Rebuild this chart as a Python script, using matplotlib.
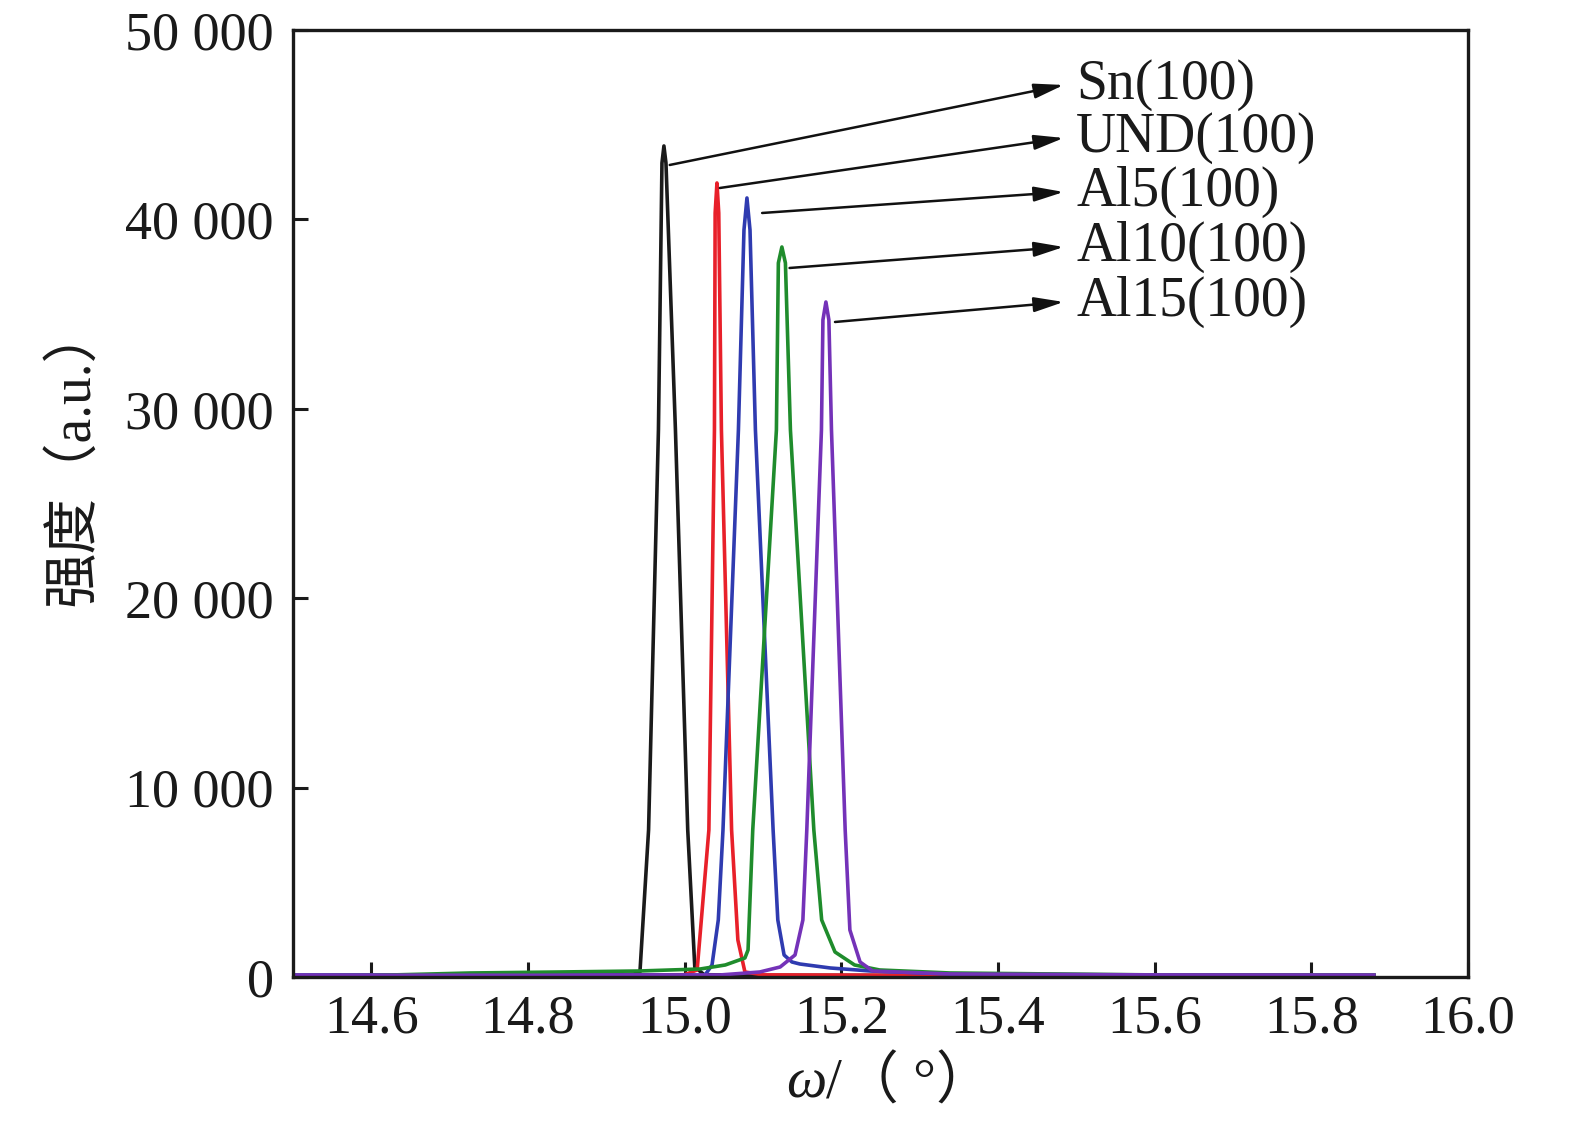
import matplotlib
matplotlib.use("Agg")
import matplotlib.pyplot as plt

# ---------------- data ----------------
sn_x = [14.50, 14.70, 14.90, 14.935, 14.943, 14.954, 14.9666, 14.9711, 14.9736, 14.9762, 14.9883, 15.004, 15.013, 15.025, 15.10, 15.40, 15.88]
sn_y = [80, 80, 90, 150, 264, 7762, 28882, 42979, 43877, 42979, 28882, 7762, 528, 120, 90, 80, 80]

und_x = [14.50, 14.80, 15.00, 15.016, 15.031, 15.0381, 15.0390, 15.0413, 15.0436, 15.0470, 15.060, 15.068, 15.077, 15.10, 15.40, 15.88]
und_y = [60, 70, 120, 370, 7762, 28882, 40339, 41923, 40339, 28882, 7762, 1954, 264, 110, 80, 80]

al5_x = [14.50, 14.80, 15.00, 15.026, 15.035, 15.043, 15.049, 15.0687, 15.0758, 15.0796, 15.0835, 15.0904, 15.113, 15.119, 15.127, 15.137, 15.147, 15.186, 15.237, 15.339, 15.60, 15.88]
al5_y = [100, 110, 100, 100, 634, 3010, 7762, 28882, 39442, 41131, 39442, 28882, 7762, 3010, 1162, 792, 686, 475, 317, 158, 100, 90]

al10_x = [14.50, 14.60, 14.726, 14.841, 14.943, 15.020, 15.052, 15.077, 15.081, 15.087, 15.1172, 15.1197, 15.1242, 15.1287, 15.1351, 15.165, 15.175, 15.192, 15.217, 15.249, 15.339, 15.60, 15.88]
al10_y = [60, 80, 211, 264, 317, 422, 634, 1003, 1426, 7762, 28882, 37699, 38544, 37699, 28882, 7762, 3010, 1320, 634, 370, 211, 110, 90]

al15_x = [14.50, 14.80, 15.045, 15.096, 15.122, 15.141, 15.151, 15.156, 15.1747, 15.1766, 15.1804, 15.1842, 15.1875, 15.205, 15.211, 15.224, 15.240, 15.339, 15.60, 15.88]
al15_y = [100, 90, 106, 264, 528, 1162, 3010, 7762, 28882, 34690, 35640, 34690, 28882, 7762, 2482, 792, 317, 158, 110, 100]

series_names = ["Sn(100)", "UND(100)", "Al5(100)", "Al10(100)", "Al15(100)"]
series_x = [sn_x, und_x, al5_x, al10_x, al15_x]
series_y = [sn_y, und_y, al5_y, al10_y, al15_y]
series_colors = ["#1a1a1a", "#e8202a", "#2f3bb0", "#1f8c2c", "#7432b8"]

# annotation: arrow start (on peak) and label positions
arrow_start_x = [14.981, 15.045, 15.099, 15.134, 15.192]
arrow_start_y = [42874, 41659, 40339, 37435, 34584]
label_x = 15.500
label_y = [47098, 44299, 41448, 38544, 35640]

xticks = [14.6, 14.8, 15.0, 15.2, 15.4, 15.6, 15.8, 16.0]
xtick_labels = ["14.6", "14.8", "15.0", "15.2", "15.4", "15.6", "15.8", "16.0"]
yticks = [0, 10000, 20000, 30000, 40000, 50000]
ytick_labels = ["0", "10 000", "20 000", "30 000", "40 000", "50 000"]

# ---------------- figure ----------------
serif = ["Liberation Serif", "Noto Sans CJK SC", "DejaVu Serif"]
plt.rcParams["font.family"] = serif

fig = plt.figure(figsize=(15.75, 11.24), dpi=100)
ax = fig.add_axes([0.186, 0.1308, 0.746, 0.8425])

for xs, ys, c in zip(series_x, series_y, series_colors):
    ax.plot(xs, ys, color=c, lw=2.6, solid_joinstyle="round")

for name, sx, sy, ly in zip(series_names, arrow_start_x, arrow_start_y, label_y):
    ax.annotate("", xy=(label_x - 0.016, ly), xytext=(sx, sy),
                arrowprops=dict(arrowstyle="-|>,head_length=1.8,head_width=0.45",
                                color="#111111", lw=1.8, shrinkA=0, shrinkB=0))
    ax.text(label_x, ly, name, fontsize=40, va="center", ha="left",
            color="#1a1a1a", family=serif)

ax.set_xlim(14.5, 16.0)
ax.set_ylim(0, 50000)
ax.set_xticks(xticks)
ax.set_xticklabels(xtick_labels)
ax.set_yticks(yticks)
ax.set_yticklabels(ytick_labels)
ax.tick_params(axis="both", direction="in", labelsize=39, colors="#1a1a1a",
               width=2.2, length=11, top=False, right=False)
ax.tick_params(axis="x", pad=12)
ax.tick_params(axis="y", pad=14)
for sp in ax.spines.values():
    sp.set_linewidth(2.4)
    sp.set_color("#1a1a1a")

# axis labels
fig.text(0.047, 0.595, "强度（a.u.）", rotation=90, fontsize=40, va="center",
         ha="center", family=serif, color="#1a1a1a")
xl = 0.186 + 0.746 * 0.4445 + 0.007
fig.text(xl, 0.036, "ω", fontsize=41, style="italic", ha="right", va="center",
         family=serif, color="#1a1a1a")
fig.text(xl, 0.036, "/（ °）", fontsize=41, ha="left", va="center",
         family=serif, color="#1a1a1a")

fig.savefig("out.png", dpi=100, facecolor="white")
